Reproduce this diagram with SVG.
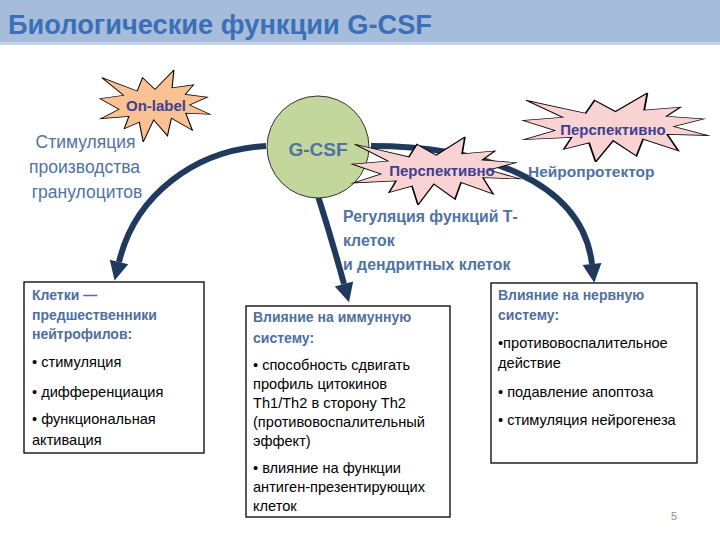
<svg xmlns="http://www.w3.org/2000/svg" width="720" height="540" viewBox="0 0 720 540">
<defs>
<style>
text{font-family:"Liberation Sans",Arial,sans-serif}
.lbl{fill:#4f73a3;font-weight:bold}
.star{fill:#3f3f8f;font-weight:bold;font-size:15px;text-anchor:middle}
.head{fill:#4f6fa0;font-weight:bold;font-size:14px}
.body{fill:#000;font-size:14.6px}
.box{fill:#fff;stroke:#000;stroke-width:1.3}
.conn{fill:none;stroke:#1f3a5c;stroke-width:6}
.burst{stroke:#000;stroke-width:1;vector-effect:non-scaling-stroke}
</style>
<path id="seal" d="M50,26.85 L67.23,0 L65.53,24.65 L85.09,20.63 L77.51,33.86 L97.67,37.67 L81.51,48.5 L100,61.53 L77.95,59.92 L84,83.77 L64.91,66.93 L61.33,91.38 L48.76,69.14 L39.28,100 L35.72,72.35 L22.05,81.56 L26.24,64.52 L0.63,67.53 L17.23,54.51 L0,39.88 L21.42,35.26 L1.71,10.63 L33.85,29.26 L38.67,10.63 Z"/>
<marker id="ah" markerUnits="userSpaceOnUse" markerWidth="22" markerHeight="22" viewBox="0 -11 20 22" refX="0" refY="0" orient="auto">
<path d="M0,-9.5 L19,0 L0,9.5 Z" fill="#1f3a5c"/>
</marker>
</defs>
<rect x="0" y="0" width="720" height="540" fill="#fff"/>
<g id="title">
<rect x="0" y="0" width="720" height="42" fill="#a5bcda"/>
<rect x="0" y="42" width="720" height="3" fill="#c4d3e8"/>
<text x="8" y="34" font-size="27" font-weight="bold" fill="#3b6fb6" textLength="424" lengthAdjust="spacingAndGlyphs">Биологические функции G-CSF</text>
</g>
<g id="connectors">
<path class="conn" d="M266,146 C195,150 135,195 119,262" marker-end="url(#ah)"/>
<path class="conn" d="M318,196 Q332,240 344,284" marker-end="url(#ah)"/>
<path class="conn" d="M371,146 C480,146 582,180 592,264" marker-end="url(#ah)"/>
</g>
<g id="gcsf">
<circle cx="318" cy="147" r="51" fill="#c3d69b" stroke="#333" stroke-width="1"/>
<text x="318" y="156" font-size="19" text-anchor="middle" class="lbl">G-CSF</text>
</g>
<g id="onlabel">
<use href="#seal" class="burst" fill="#fac192" transform="translate(100,70) scale(1.1,0.72)"/>
<text x="156" y="111" class="star">On-label</text>
</g>
<g id="persp1">
<use href="#seal" class="burst" fill="#f9d3d3" transform="translate(523,93) scale(1.85,0.69)"/>
<text x="613" y="135" class="star">Перспективно</text>
</g>
<g id="persp2">
<use href="#seal" class="burst" fill="#f9d3d3" transform="translate(352,137) scale(1.68,0.68)"/>
<text x="442" y="176" class="star">Перспективно</text>
</g>
<g id="stim">
<text class="lbl" font-size="17.5" text-anchor="middle" style="font-weight:normal">
<tspan x="88" y="148">Стимуляция</tspan>
<tspan x="87" y="173">производства</tspan>
<tspan x="87" y="198">гранулоцитов</tspan>
</text>
</g>
<g id="neuro">
<text x="528" y="177" class="lbl" font-size="15.5">Нейропротектор</text>
</g>
<g id="reg">
<text class="lbl" font-size="15.8">
<tspan x="343" y="222">Регуляция функций Т-</tspan>
<tspan x="343" y="246">клеток</tspan>
<tspan x="343" y="270">и дендритных клеток</tspan>
</text>
</g>
<g id="box1">
<rect class="box" x="24" y="282" width="180" height="171"/>
<text class="head"><tspan x="32" y="300">Клетки —</tspan><tspan x="32" y="320">предшественники</tspan><tspan x="32" y="339">нейтрофилов:</tspan></text>
<text class="body"><tspan x="32" y="367">• стимуляция</tspan><tspan x="32" y="397">• дифференциация</tspan><tspan x="32" y="424">• функциональная</tspan><tspan x="32" y="445">активация</tspan></text>
</g>
<g id="box2">
<rect class="box" x="246" y="306" width="204" height="211"/>
<text class="head"><tspan x="253" y="322">Влияние на иммунную</tspan><tspan x="253" y="343">систему:</tspan></text>
<text class="body"><tspan x="253" y="370">• способность сдвигать</tspan><tspan x="253" y="389">профиль цитокинов</tspan><tspan x="253" y="408">Th1/Th2 в сторону Th2</tspan><tspan x="253" y="427">(противовоспалительный</tspan><tspan x="253" y="446">эффект)</tspan><tspan x="253" y="473">• влияние на функции</tspan><tspan x="253" y="492">антиген-презентирующих</tspan><tspan x="253" y="511">клеток</tspan></text>
</g>
<g id="box3">
<rect class="box" x="491" y="283" width="206" height="180"/>
<text class="head"><tspan x="498" y="300">Влияние на нервную</tspan><tspan x="498" y="320">систему:</tspan></text>
<text class="body"><tspan x="498" y="348">•противовоспалительное</tspan><tspan x="498" y="368">действие</tspan><tspan x="498" y="397">• подавление апоптоза</tspan><tspan x="498" y="425">• стимуляция нейрогенеза</tspan></text>
</g>
<text x="674" y="520" font-size="11" fill="#8a8a8a" text-anchor="middle">5</text>
</svg>
